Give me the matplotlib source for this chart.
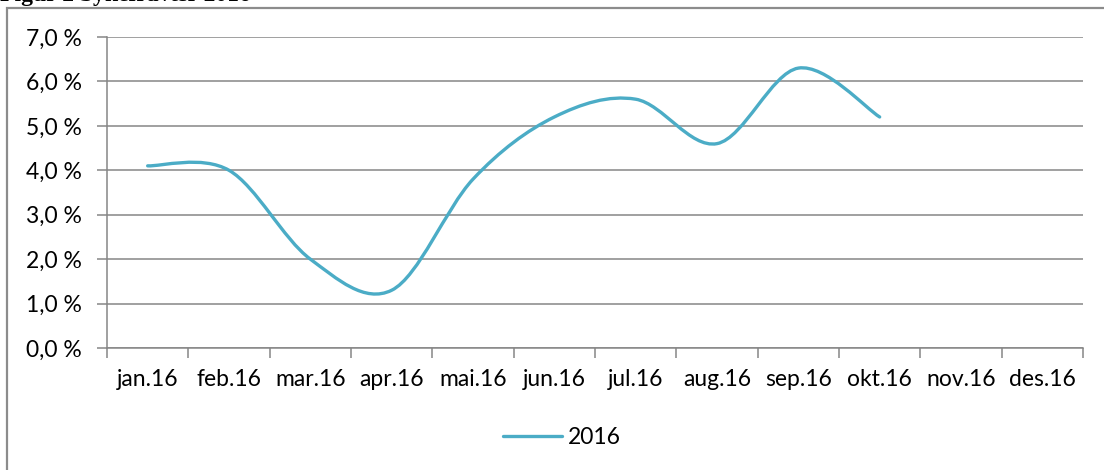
import matplotlib
matplotlib.use("Agg")
import matplotlib.pyplot as plt
from matplotlib.path import Path
from matplotlib.patches import PathPatch, Rectangle
from matplotlib.lines import Line2D
from matplotlib.ticker import FuncFormatter, FixedLocator

# ── data ────────────────────────────────────────────────────────────────
months = ["jan.16", "feb.16", "mar.16", "apr.16", "mai.16", "jun.16",
          "jul.16", "aug.16", "sep.16", "okt.16", "nov.16", "des.16"]
sick_2016 = [4.1, 4.0, 2.0, 1.3, 3.8, 5.2, 5.6, 4.6, 6.3, 5.2]   # percent
series_name = "2016"
title = "Figur 2 Sykefravær 2016"

LINE = "#4BACC6"
GRID = "#868686"
FONT = "Lato"
FS = 16.5

W, H = 1104, 470
fig = plt.figure(figsize=(W / 100, H / 100), dpi=100)
fig.patch.set_facecolor("white")

# chart frame (cut off at right and bottom, like the source screenshot)
fig.patches.append(Rectangle((7 / W, -0.1), 1.2, (H - 8) / H + 0.1,
                             transform=fig.transFigure, facecolor="none",
                             edgecolor="#8c8c8c", lw=1.6))
fig.text(0, (H - 6) / H, title, ha="left", va="bottom",
         fontsize=17, fontweight="bold", family="Liberation Serif")

ax = fig.add_axes([107 / W, (H - 348) / H, (1083 - 107) / W, (348 - 37) / H])
ax.set_xlim(0, len(months))
ax.set_ylim(0, 7)

# smooth line (Excel-style Catmull-Rom Bezier through the data points)
xs = [i + 0.5 for i in range(len(sick_2016))]
pts = list(zip(xs, sick_2016))
verts = [pts[0]]
codes = [Path.MOVETO]
n = len(pts)
for i in range(n - 1):
    p0 = pts[i - 1] if i > 0 else pts[i]
    p1, p2 = pts[i], pts[i + 1]
    p3 = pts[i + 2] if i + 2 < n else pts[i + 1]
    c1 = (p1[0] + (p2[0] - p0[0]) / 6, p1[1] + (p2[1] - p0[1]) / 6)
    c2 = (p2[0] - (p3[0] - p1[0]) / 6, p2[1] - (p3[1] - p1[1]) / 6)
    verts += [c1, c2, p2]
    codes += [Path.CURVE4] * 3
ax.add_patch(PathPatch(Path(verts, codes), facecolor="none", edgecolor=LINE,
                       lw=2.4, capstyle="round", zorder=3))

# axes styling
for s in ("top", "right"):
    ax.spines[s].set_visible(False)
for s in ("left", "bottom"):
    ax.spines[s].set_color(GRID)
    ax.spines[s].set_linewidth(1.1)
ax.yaxis.set_major_locator(FixedLocator(range(0, 8)))
ax.yaxis.set_major_formatter(FuncFormatter(lambda v, _: f"{v:.1f} %".replace(".", ",")))
ax.grid(axis="y", color=GRID, lw=1.1)
ax.set_axisbelow(True)
ax.tick_params(axis="y", length=7, color=GRID, width=1.1, pad=11,
               labelsize=FS, labelcolor="black")
for lab in ax.get_yticklabels():
    lab.set_family(FONT)

ax.set_xticks([i + 0.5 for i in range(len(months))])
ax.set_xticklabels(months, family=FONT, fontsize=FS)
ax.set_xticks(range(len(months) + 1), minor=True)
ax.tick_params(axis="x", which="major", length=0, pad=15)
ax.tick_params(axis="x", which="minor", length=7, color=GRID, width=1.1)

# legend
handle = Line2D([], [], color=LINE, lw=2.4, solid_capstyle="round")
fig.legend([handle], [series_name], loc="center", bbox_to_anchor=(562 / W, (H - 438) / H),
           frameon=False, handlelength=2.6, handletextpad=0.25,
           prop={"family": FONT, "size": FS})

fig.savefig("out.png", dpi=100, facecolor=fig.get_facecolor())
